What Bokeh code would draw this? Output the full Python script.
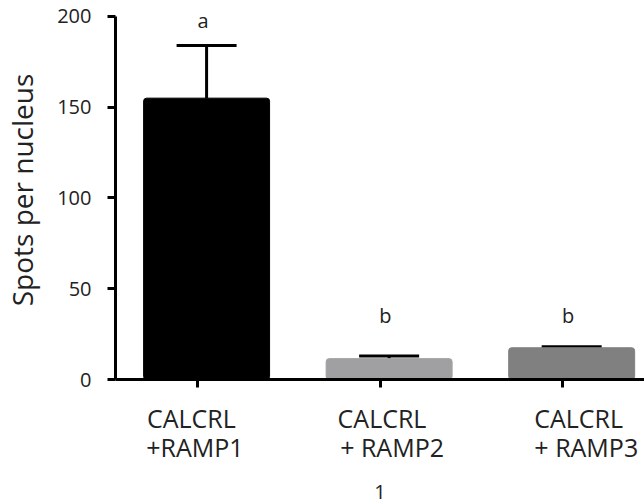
from bokeh.plotting import figure
from bokeh.models import FixedTicker, ColumnDataSource, Range1d, Whisker, TeeHead, LinearAxis
from bokeh.core.properties import value
from bokeh.embed import file_html
from bokeh.resources import INLINE

line1 = ["CALCRL", "CALCRL", "CALCRL"]
line2 = ["+RAMP1", "+ RAMP2", "+ RAMP3"]
positions = [1, 2, 3]
means = [155, 11.5, 17.5]
err_top = [184, 13, 18]
letters = ["a", "b", "b"]
letter_y = [198, 35, 35]
colors = ["#000000", "#a0a0a2", "#808080"]
y_ticks = [0, 50, 100, 150, 200]

FONT = "Open Sans"
TXT = "#222222"
bar_off = 0.05
letter_off = 0.03
line1_off = [-0.033, 0.011, 0.088]
line2_off = [-0.014, 0.066, 0.13]
bx = [x + bar_off for x in positions]
lx = [x + letter_off for x in positions]
l1x = [x + o for x, o in zip(positions, line1_off)]
l2x = [x + o for x, o in zip(positions, line2_off)]

p = figure(width=644, height=504, output_backend="svg", toolbar_location=None,
           x_range=Range1d(0.551, 3.449), y_range=Range1d(0, 208.8),
           min_border_top=0, min_border_right=0, min_border_left=115, min_border_bottom=125)
p.outline_line_color = None
p.grid.visible = False
p.background_fill_color = "white"

src = ColumnDataSource(dict(x=bx, top=means, color=colors, et=err_top,
                            lx=lx, ly=letter_y, lt=letters))
p.vbar(x="x", top="top", bottom=0, width=0.69, fill_color="color", line_color="color",
       line_width=1, border_radius=3, source=src)
whisk = Whisker(base="x", lower="top", upper="et", source=src, dimension="height",
                line_color="black", line_width=3,
                upper_head=TeeHead(size=60, line_width=3, line_color="black"),
                lower_head=None)
p.add_layout(whisk)
p.text(x="lx", y="ly", text="lt", text_align="center", text_baseline="middle",
       text_font=value(FONT), text_font_size="20px", text_color=TXT, source=src)

# y axis
ya = p.yaxis[0]
ya.ticker = FixedTicker(ticks=y_ticks)
ya.bounds = (0, 200)
ya.axis_line_width = 3
ya.axis_line_color = "black"
ya.major_tick_line_width = 3
ya.major_tick_out = 8
ya.major_tick_in = 0
ya.minor_tick_line_color = None
ya.major_label_text_font = FONT
ya.major_label_text_font_size = "20px"
ya.major_label_text_color = TXT
ya.major_label_standoff = 16
ya.axis_label = "Spots per nucleus"
ya.axis_label_text_font = FONT
ya.axis_label_text_font_size = "28px"
ya.axis_label_text_font_style = "normal"
ya.axis_label_text_color = TXT
ya.axis_label_standoff = 13

# x axis: line and tick marks only
xa = p.xaxis[0]
xa.ticker = FixedTicker(ticks=positions)
xa.axis_line_width = 3
xa.axis_line_color = "black"
xa.major_tick_line_width = 3
xa.major_tick_out = 8
xa.major_tick_in = 0
xa.minor_tick_line_color = None
xa.major_label_text_font_size = "1px"
xa.major_label_text_color = None
xa.major_label_standoff = 0

def label_axis(ticks, texts, standoff):
    ax = LinearAxis(ticker=FixedTicker(ticks=ticks),
                    major_label_overrides={t: s for t, s in zip(ticks, texts)})
    ax.axis_line_color = None
    ax.major_tick_line_color = None
    ax.minor_tick_line_color = None
    ax.major_tick_out = 0
    ax.major_tick_in = 0
    ax.major_label_text_font = FONT
    ax.major_label_text_font_size = "25px"
    ax.major_label_text_color = TXT
    ax.major_label_standoff = standoff
    return ax

xb = label_axis(l1x, line1, 13)
p.add_layout(xb, "below")

xc = label_axis(l2x, line2, -8)
xc.axis_label = "1"
xc.axis_label_text_font = FONT
xc.axis_label_text_font_size = "20px"
xc.axis_label_text_font_style = "normal"
xc.axis_label_text_color = TXT
xc.axis_label_standoff = 18
p.add_layout(xc, "below")

open("out.html", "w").write(file_html(p, INLINE))
